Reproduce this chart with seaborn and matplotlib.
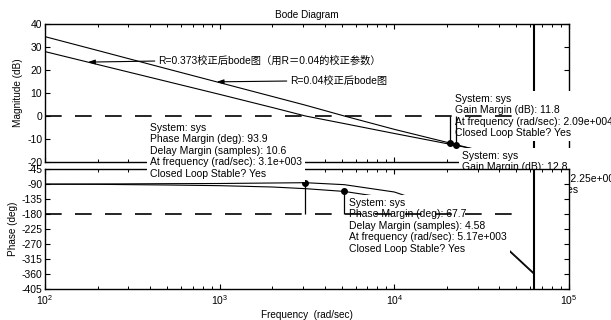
import numpy as np
import pandas as pd
import matplotlib
matplotlib.use("Agg")
import matplotlib.pyplot as plt
import seaborn as sns

# ---- open-loop responses of the two compensated designs ----
freq = [100, 200, 500, 1000, 2000, 3100, 5170, 10000, 20900, 22500, 30000, 43700, 62900]
mag_r004 = [34.5, 28.5, 20.5, 14.5, 8.5, 4.7, 0.0, -5.8, -11.8, -12.4, -14.9, -17.8, -21.5]
mag_r0373 = [28.0, 22.4, 15.0, 9.4, 3.7, 0.0, -3.3, -7.6, -12.3, -12.8, -14.6, -16.9, -20.0]
phase_r004 = [-90.5, -91.0, -93.0, -95.0, -99.0, -104.0, -112.3, -135.0, -180.0, -188.0, -220.0, -283.0, -360.0]
phase_r0373 = [-90.5, -90.0, -89.0, -88.5, -87.0, -86.1, -92.0, -114.0, -170.0, -180.0, -215.0, -280.0, -357.0]

# stability margins reported by the data tips
gm_db = [11.8, 12.8]
gm_freq = [20900, 22500]
pm_deg = [93.9, 67.7]
pm_freq = [3100, 5170]
delay_samples = [10.6, 4.58]
nyquist_freq = 62900
ref_stop = 50000

mag_ticks = [-20, -10, 0, 10, 20, 30, 40]
phase_ticks = [-45, -90, -135, -180, -225, -270, -315, -360, -405]

label_r0373 = "R=0.373校正后bode图（用R＝0.04的校正参数）"
label_r004 = "R=0.04校正后bode图"
arrow_freq = [176, 960]

W, H = 611, 320

sns.set_theme(style="white", rc={
    "xtick.direction": "in", "ytick.direction": "in",
    "xtick.top": True, "xtick.bottom": True,
    "ytick.left": True, "ytick.right": True,
    "xtick.major.size": 3.5, "ytick.major.size": 3.5,
    "xtick.minor.size": 2.0, "ytick.minor.size": 0,
    "xtick.major.width": 0.8, "ytick.major.width": 0.8,
    "xtick.minor.width": 0.7,
    "xtick.major.pad": 3, "ytick.major.pad": 2,
    "axes.edgecolor": "black", "axes.linewidth": 1.0,
    "xtick.color": "black", "ytick.color": "black",
    "text.color": "black", "axes.labelcolor": "black",
})
plt.rcParams["font.family"] = ["Liberation Sans", "Noto Sans CJK SC", "DejaVu Sans"]
plt.rcParams["axes.unicode_minus"] = False

fig = plt.figure(figsize=(W / 100, H / 100), dpi=100)
fig.patch.set_facecolor("white")


def fig_xy(px, py):
    return px / W, 1 - py / H


ax_mag = fig.add_axes([45 / W, 1 - 162 / H, 524 / W, 138 / H])
ax_ph = fig.add_axes([45 / W, 1 - 289 / H, 524 / W, 120 / H])

df = pd.DataFrame({
    "freq": freq * 2,
    "mag": mag_r004 + mag_r0373,
    "phase": phase_r004 + phase_r0373,
    "case": ["R=0.04"] * len(freq) + ["R=0.373"] * len(freq),
})

for ax in (ax_mag, ax_ph):
    ax.set_xscale("log")
    ax.set_facecolor("white")

sns.lineplot(data=df, x="freq", y="mag", hue="case", palette=["black", "black"],
             estimator=None, sort=False, legend=False, lw=0.8, ax=ax_mag, zorder=2)
sns.lineplot(data=df, x="freq", y="phase", hue="case", palette=["black", "black"],
             estimator=None, sort=False, legend=False, lw=0.8, ax=ax_ph, zorder=2)

# Nyquist frequency marker
for ax in (ax_mag, ax_ph):
    ax.axvline(nyquist_freq, color="black", lw=1.5, zorder=2)

# reference lines and margin stems
ax_mag.plot([freq[0], ref_stop], [0, 0], color="black", lw=1.2, dashes=(10, 8), zorder=4)
ax_ph.plot([freq[0], ref_stop], [-180, -180], color="black", lw=1.2, dashes=(10, 8), zorder=4)
ax_mag.vlines(gm_freq, [-g for g in gm_db], 0, color="black", lw=0.9, zorder=4)
ax_mag.plot(gm_freq, [-g for g in gm_db], "o", color="black", ms=4, zorder=5)
ax_ph.vlines(pm_freq, -180, [-180 + p for p in pm_deg], color="black", lw=0.9, zorder=4)
ax_ph.plot(pm_freq, [-180 + p for p in pm_deg], "o", color="black", ms=4, zorder=5)

# axes limits and ticks
for ax in (ax_mag, ax_ph):
    ax.set_xlim(100, 1e5)
    ax.tick_params(axis="both", which="both", labelsize=7.5)
ax_mag.set_ylim(-20, 40)
ax_mag.set_yticks(mag_ticks)
ax_mag.tick_params(labelbottom=False)
ax_ph.set_ylim(-405, -45)
ax_ph.set_yticks(phase_ticks)

ax_mag.set_title("Bode Diagram", fontsize=7.2, pad=4)
ax_mag.set_ylabel("Magnitude (dB)", fontsize=7.2, labelpad=3)
ax_ph.set_ylabel("Phase (deg)", fontsize=7.2, labelpad=2)
ax_ph.set_xlabel("Frequency  (rad/sec)", fontsize=7.2, labelpad=2)


def mag_at(f, mags):
    return float(np.interp(np.log10(f), np.log10(freq), mags))


arrow_kw = dict(arrowstyle="-|>,head_length=0.55,head_width=0.18", color="black",
                lw=0.8, shrinkA=0, shrinkB=0, relpos=(0, 0.5))
ax_mag.annotate(label_r0373, xy=(arrow_freq[0], mag_at(arrow_freq[0], mag_r0373)),
                xytext=fig_xy(158, 61), textcoords="figure fraction",
                ha="left", va="center", fontsize=7.4, arrowprops=arrow_kw, zorder=3)
ax_mag.annotate(label_r004, xy=(arrow_freq[1], mag_at(arrow_freq[1], mag_r004)),
                xytext=fig_xy(290, 81), textcoords="figure fraction",
                ha="left", va="center", fontsize=7.4, arrowprops=arrow_kw, zorder=3)


def matlab_num(v):
    e = int(np.floor(np.log10(v)))
    return f"{v / 10 ** e:.3g}e+{e:03d}"


def gm_tip(i):
    return (f"System: sys\nGain Margin (dB): {gm_db[i]}\n"
            f"At frequency (rad/sec): {matlab_num(gm_freq[i])}\nClosed Loop Stable? Yes")


def pm_tip(i):
    return (f"System: sys\nPhase Margin (deg): {pm_deg[i]}\n"
            f"Delay Margin (samples): {delay_samples[i]}\n"
            f"At frequency (rad/sec): {matlab_num(pm_freq[i])}\nClosed Loop Stable? Yes")


tip_kw = dict(ha="left", va="top", fontsize=7.5, linespacing=1.18,
              bbox=dict(boxstyle="square,pad=0.3", fc="white", ec="none"))

# data tips
ax_mag.text(*fig_xy(455, 94), gm_tip(0), transform=fig.transFigure, clip_on=False,
            zorder=3, **tip_kw)
ax_mag.text(*fig_xy(462, 151), gm_tip(1), transform=fig.transFigure, clip_on=False,
            zorder=3, **tip_kw)
ax_ph.text(*fig_xy(349, 198), pm_tip(1), transform=fig.transFigure, clip_on=False,
           zorder=3, **tip_kw)
fig.text(*fig_xy(150, 123), pm_tip(0), zorder=3, **tip_kw)

fig.savefig("out.png", dpi=100, facecolor="white")
